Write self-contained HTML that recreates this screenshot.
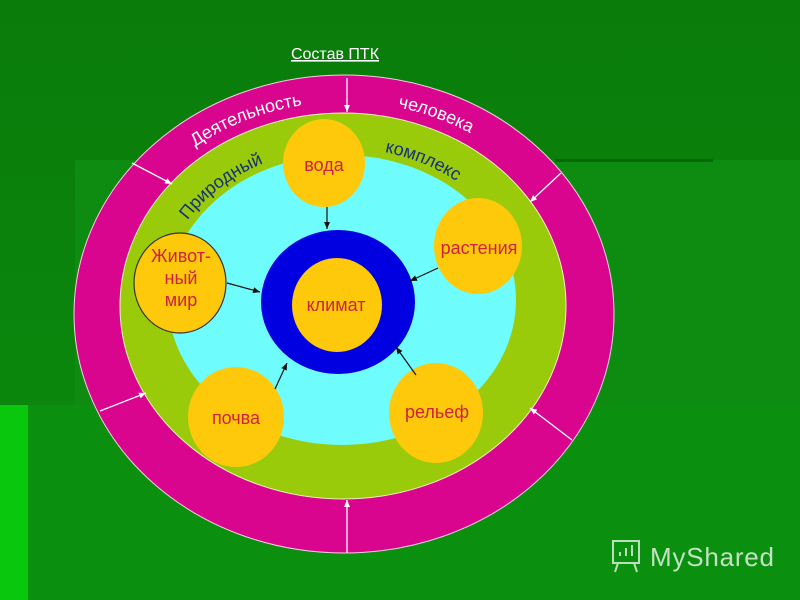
<!DOCTYPE html>
<html><head><meta charset="utf-8"><style>
html,body{margin:0;padding:0;width:800px;height:600px;overflow:hidden;background:#0a820c}
svg{display:block}
</style></head><body>
<svg width="800" height="600" viewBox="0 0 800 600" xmlns="http://www.w3.org/2000/svg" font-family="Liberation Sans, sans-serif">
<defs>
<linearGradient id="bg" x1="0" y1="0" x2="0" y2="1"><stop offset="0" stop-color="#0a7c0a"/><stop offset="1" stop-color="#0b8c0e"/></linearGradient>
<marker id="wa" markerWidth="8" markerHeight="8" refX="7" refY="4" orient="auto" markerUnits="userSpaceOnUse"><path d="M0,1 L7,4 L0,7 z" fill="#fff"/></marker>
<marker id="ba" markerWidth="8" markerHeight="8" refX="7" refY="4" orient="auto" markerUnits="userSpaceOnUse"><path d="M0,1 L7,4 L0,7 z" fill="#111"/></marker>
<path id="p1" d="M102,314 A242,212 0 0 1 586,314"/>
<path id="p2" d="M158,306 A185,158 0 0 1 528,306"/>
</defs>
<rect width="800" height="600" fill="url(#bg)"/>
<rect x="75" y="160" width="725" height="245" fill="#0e8c12"/>
<rect x="555" y="159" width="158" height="3" fill="#066806"/>
<rect x="28" y="405" width="772" height="195" fill="#0a900e"/>
<rect x="0" y="405" width="28" height="195" fill="#08c70c"/>
<text x="335" y="59" font-size="16" fill="#fff" text-anchor="middle" text-decoration="underline">Состав ПТК</text>
<ellipse cx="344" cy="314" rx="270" ry="239" fill="#d9058f" stroke="#f3d0e0" stroke-width="1"/>
<ellipse cx="343" cy="306" rx="223" ry="193" fill="#9acb0a" stroke="#f0f0c0" stroke-width="1"/>
<ellipse cx="342" cy="300" rx="174" ry="145" fill="#6ffcfc"/>
<text font-size="18" fill="#fff" text-anchor="middle"><textPath href="#p1" startOffset="36%">Деятельность</textPath></text>
<text font-size="18" fill="#fff" text-anchor="middle"><textPath href="#p1" startOffset="63%">человека</textPath></text>
<text font-size="18" fill="#14307a" text-anchor="middle"><textPath href="#p2" startOffset="26%">Природный</textPath></text>
<text font-size="18" fill="#14307a" text-anchor="middle"><textPath href="#p2" startOffset="65%">комплекс</textPath></text>
<line x1="347" y1="78" x2="347" y2="112" stroke="#fff" stroke-width="1.3" marker-end="url(#wa)"/>
<line x1="132" y1="163" x2="172" y2="184" stroke="#fff" stroke-width="1.3" marker-end="url(#wa)"/>
<line x1="561" y1="173" x2="530" y2="202" stroke="#fff" stroke-width="1.3" marker-end="url(#wa)"/>
<line x1="100" y1="411" x2="146" y2="393" stroke="#fff" stroke-width="1.3" marker-end="url(#wa)"/>
<line x1="572" y1="440" x2="530" y2="408" stroke="#fff" stroke-width="1.3" marker-end="url(#wa)"/>
<line x1="347" y1="553" x2="347" y2="500" stroke="#fff" stroke-width="1.3" marker-end="url(#wa)"/>
<ellipse cx="338" cy="302" rx="77" ry="72" fill="#0000e0"/>
<ellipse cx="337" cy="305" rx="45" ry="47" fill="#fdc90a"/>
<ellipse cx="324" cy="163" rx="41" ry="44" fill="#fdc90a"/>
<ellipse cx="478" cy="246" rx="44" ry="48" fill="#fdc90a"/>
<ellipse cx="180" cy="283" rx="46" ry="50" fill="#fdc90a" stroke="#333" stroke-width="1.2"/>
<ellipse cx="236" cy="417" rx="48" ry="50" fill="#fdc90a"/>
<ellipse cx="436" cy="413" rx="47" ry="50" fill="#fdc90a"/>
<line x1="327" y1="207" x2="327" y2="229" stroke="#111" stroke-width="1.2" marker-end="url(#ba)"/>
<line x1="227" y1="283" x2="260" y2="292" stroke="#111" stroke-width="1.2" marker-end="url(#ba)"/>
<line x1="438" y1="268" x2="410" y2="281" stroke="#111" stroke-width="1.2" marker-end="url(#ba)"/>
<line x1="275" y1="389" x2="287" y2="363" stroke="#111" stroke-width="1.2" marker-end="url(#ba)"/>
<line x1="416" y1="375" x2="396" y2="347" stroke="#111" stroke-width="1.2" marker-end="url(#ba)"/>
<g font-size="18" fill="#d02040" text-anchor="middle">
<text x="336" y="311">климат</text>
<text x="324" y="171">вода</text>
<text x="479" y="254">растения</text>
<text x="181" y="262">Живот-</text>
<text x="181" y="284">ный</text>
<text x="181" y="306">мир</text>
<text x="236" y="424">почва</text>
<text x="437" y="418">рельеф</text>
</g>
<g fill="none" stroke="#cfe8cf" stroke-width="2" opacity="0.9">
<rect x="613" y="541" width="26" height="22"/>
<line x1="620" y1="556" x2="620" y2="552"/><line x1="626" y1="556" x2="626" y2="548"/><line x1="632" y1="556" x2="632" y2="545"/>
<line x1="618" y1="563" x2="615" y2="572"/><line x1="634" y1="563" x2="637" y2="572"/>
</g>
<text x="650" y="566" font-size="26" fill="#d6ead6" opacity="0.9" textLength="124">MyShared</text>
</svg>
</body></html>
